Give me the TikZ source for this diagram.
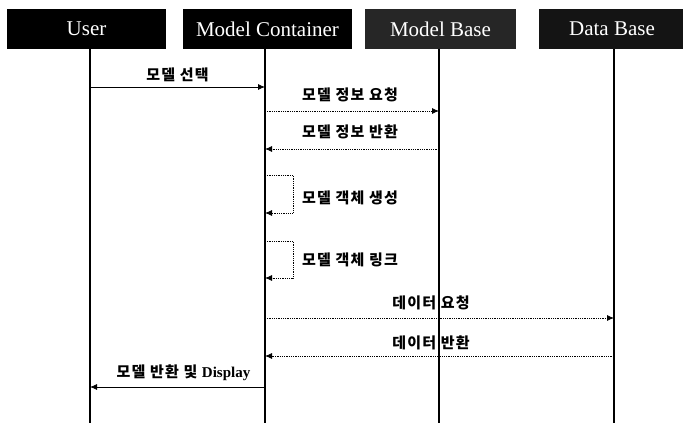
\documentclass[tikz,border=0pt]{standalone}
\usepackage{fontspec}
\setmainfont{Liberation Serif}
\newfontfamily\kr{Noto Sans CJK KR}[LetterSpace=8]
\usetikzlibrary{arrows.meta}

\tikzset{
  head/.style={fill=black, text=white, minimum height=40pt, inner sep=0pt,
    font=\fontsize{21}{21}\selectfont},
  life/.style={line width=2.4pt},
  call/.style={line width=0.8pt, -{Latex[length=7pt,width=6pt]}},
  reply/.style={call, densely dotted},
  lbl/.style={font=\kr\bfseries\fontsize{15}{15}\selectfont, inner sep=0pt},
}

\begin{document}
\begin{tikzpicture}[x=1pt, y=-1pt]
  \useasboundingbox (0,0) rectangle (683,423);

  % participants
  \node[head, minimum width=159pt] (u)  at (86.5,29)  {User};
  \node[head, minimum width=169pt] (mc) at (267.5,29) {Model Container};
  \node[head, minimum width=151pt, fill=black!85] (mb) at (440.5,29) {Model Base};
  \node[head, minimum width=146pt, fill=black!92] (db) at (612,29)  {Data Base};

  % lifelines
  \coordinate (uT)  at (90,49);   \coordinate (uB)  at (90,423);
  \coordinate (mcT) at (265,49);  \coordinate (mcB) at (265,423);
  \coordinate (mbT) at (439,49);  \coordinate (mbB) at (439,423);
  \coordinate (dbT) at (614,49);  \coordinate (dbB) at (614,423);
  \draw[life] (uT) -- (uB);
  \draw[life] (mcT) -- (mcB);
  \draw[life] (mbT) -- (mbB);
  \draw[life] (dbT) -- (dbB);

  % messages
  \node[lbl] (l1) at (177.5,75) {모델 선택};
  \draw[call] (uT |- 0,87) -- (mcT |- 0,87);

  \node[lbl] (l2) at (350,95) {모델 정보 요청};
  \draw[reply] (mcT |- 0,111) -- (mbT |- 0,111);

  \node[lbl] (l3) at (350,132) {모델 정보 반환};
  \draw[reply] (mbT |- 0,149) -- (mcT |- 0,149);

  \node[lbl, anchor=west] (l4) at (302,198) {모델 객체 생성};
  \draw[reply] (mcT |- 0,175) -- ++(28,0) -- ++(0,38) -- ++(-28,0);

  \node[lbl, anchor=west] (l5) at (302,260) {모델 객체 링크};
  \draw[reply] (mcT |- 0,241) -- ++(28,0) -- ++(0,37) -- ++(-28,0);

  \node[lbl] (l6) at (431,303) {데이터 요청};
  \draw[reply] (mcT |- 0,318) -- (dbT |- 0,318);

  \node[lbl] (l7) at (431,343) {데이터 반환};
  \draw[reply] (dbT |- 0,356) -- (mcT |- 0,356);

  \node[lbl] (l8) at (183.5,373) {모델 반환 및 {\rmfamily\bfseries\fontsize{15}{15}\selectfont Display}};
  \draw[call] (mcT |- 0,387) -- (uT |- 0,387);
\end{tikzpicture}
\end{document}
